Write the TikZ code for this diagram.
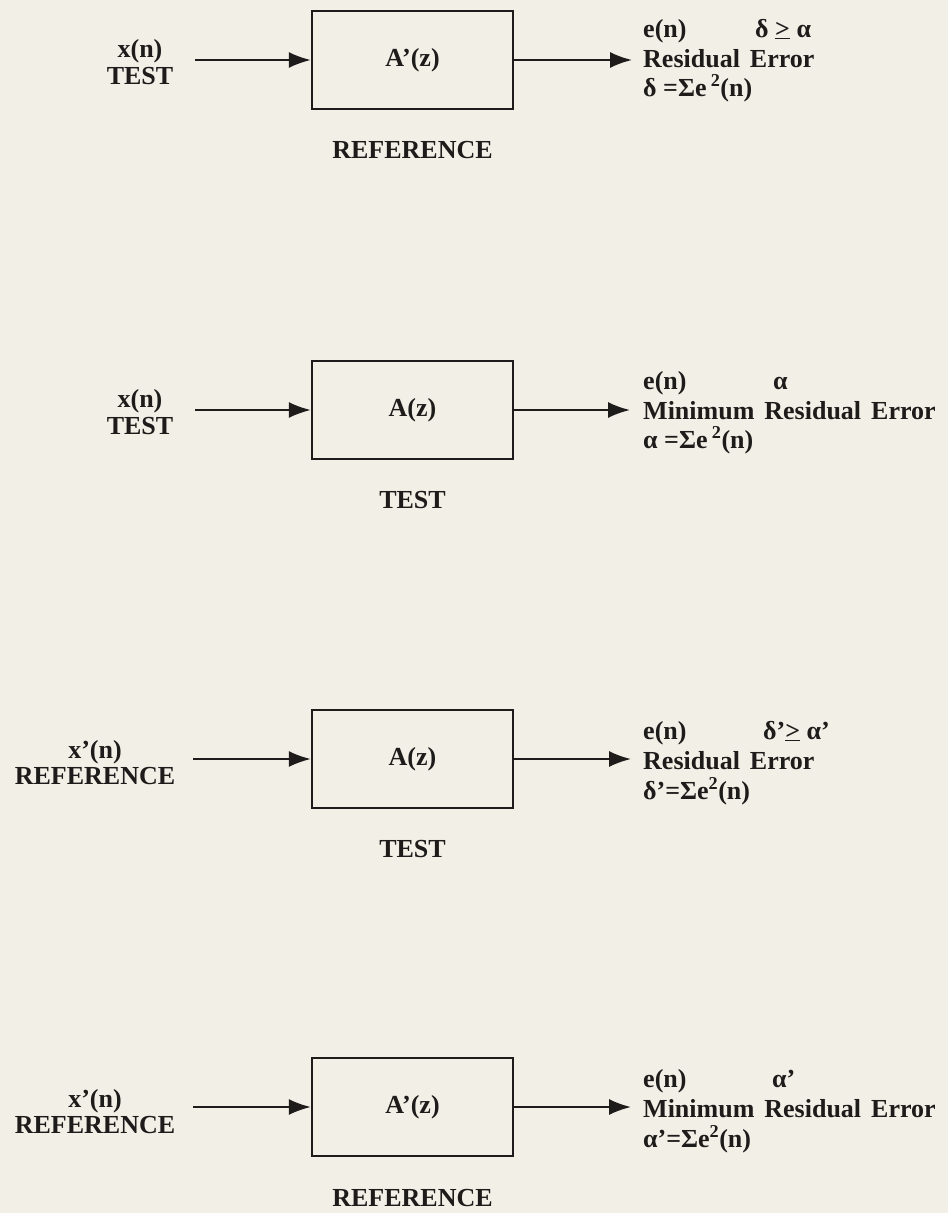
\documentclass[tikz,border=0pt]{standalone}
\usepackage{fontspec}
\setmainfont{Liberation Serif}
\usetikzlibrary{arrows.meta}
\definecolor{paper}{RGB}{241,239,230}
\definecolor{ink}{RGB}{30,28,26}
\newcommand\lblfont{\bfseries\fontsize{26}{28}\selectfont}
\newcommand\sq{\textsuperscript{2}}
\newcommand\wsp{\hspace{10pt}}
\begin{document}
\begin{tikzpicture}[x=1pt,y=-1pt,
  blk/.style={draw=ink, line width=2.4pt, minimum width=201pt, minimum height=98pt, inner sep=0pt, text=ink, font=\lblfont},
  sig/.style={draw=ink, line width=2pt, -{Latex[length=22pt,width=16pt]}},
  txt/.style={text=ink, font=\lblfont, inner sep=0pt, anchor=base west},
  ctr/.style={text=ink, font=\lblfont, inner sep=0pt, anchor=base}]
\fill[paper] (0,0) rectangle (948,1213);
\useasboundingbox (0,0) rectangle (948,1213);

% ---------- Row 1
\node[blk] (b1) at (412.5,60) {A’(z)};
\node[ctr] (c1) at (412.5,158) {REFERENCE};
\node[ctr] (l1a) at (140,57) {x(n)};
\node[ctr] (l1b) at (140,84) {TEST};
\coordinate (s1) at (195,60);
\coordinate (t1) at (632,60);
\draw[sig] (s1) -- (b1.west);
\draw[sig] (b1.east) -- (t1);
\node[txt] (r1a) at (643,37) {e(n)};
\node[txt] (r1x) at (755,37) {δ \underline{>} α};
\node[txt] (r1b) at (643,67) {Residual\wsp Error};
\node[txt] (r1c) at (643,96) {δ =Σe\,\sq(n)};

% ---------- Row 2
\node[blk] (b2) at (412.5,410) {A(z)};
\node[ctr] (c2) at (412.5,508) {TEST};
\node[ctr] (l2a) at (140,407) {x(n)};
\node[ctr] (l2b) at (140,434) {TEST};
\coordinate (s2) at (195,410);
\coordinate (t2) at (630,410);
\draw[sig] (s2) -- (b2.west);
\draw[sig] (b2.east) -- (t2);
\node[txt] (r2a) at (643,389) {e(n)};
\node[txt] (r2x) at (773,389) {α};
\node[txt] (r2b) at (643,419) {Minimum\wsp Residual\wsp Error};
\node[txt] (r2c) at (643,448) {α =Σe\,\sq(n)};

% ---------- Row 3
\node[blk] (b3) at (412.5,759) {A(z)};
\node[ctr] (c3) at (412.5,857) {TEST};
\node[ctr] (l3a) at (95,758) {x’(n)};
\node[ctr] (l3b) at (95,784) {REFERENCE};
\coordinate (s3) at (193,759);
\coordinate (t3) at (631,759);
\draw[sig] (s3) -- (b3.west);
\draw[sig] (b3.east) -- (t3);
\node[txt] (r3a) at (643,739) {e(n)};
\node[txt] (r3x) at (763,739) {δ’\underline{>} α’};
\node[txt] (r3b) at (643,769) {Residual\wsp Error};
\node[txt] (r3c) at (643,799) {δ’=Σe\sq(n)};

% ---------- Row 4
\node[blk] (b4) at (412.5,1107) {A’(z)};
\node[ctr] (c4) at (412.5,1206) {REFERENCE};
\node[ctr] (l4a) at (95,1107) {x’(n)};
\node[ctr] (l4b) at (95,1133) {REFERENCE};
\coordinate (s4) at (193,1107);
\coordinate (t4) at (631,1107);
\draw[sig] (s4) -- (b4.west);
\draw[sig] (b4.east) -- (t4);
\node[txt] (r4a) at (643,1087) {e(n)};
\node[txt] (r4x) at (772,1087) {α’};
\node[txt] (r4b) at (643,1117) {Minimum\wsp Residual\wsp Error};
\node[txt] (r4c) at (643,1147) {α’=Σe\sq(n)};
\end{tikzpicture}
\end{document}
